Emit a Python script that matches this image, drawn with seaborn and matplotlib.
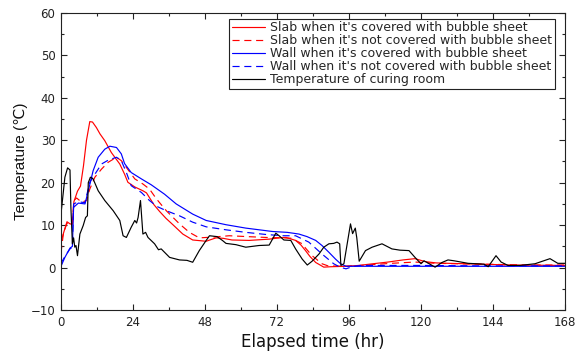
import numpy as np
import pandas as pd
import matplotlib
matplotlib.use("Agg")
import matplotlib.pyplot as plt
from matplotlib.ticker import MultipleLocator
import seaborn as sns

# Slab, covered with bubble sheet
slab_cov_hr = [0, 1, 2, 3, 3.8, 4.3, 5.5, 6.5, 7.5, 8.5, 9.6, 10.5, 11.8, 13.0, 14.6,
               16.8, 19.6, 21.2, 22.3, 24.6, 27.3, 28.5, 31.0, 32.9, 35.0, 37.3, 40.6,
               43.9, 48.4, 50.0, 51.7, 54.0, 57.0, 62.7, 69.4, 72.7, 75.0, 78.2, 80.0,
               81.5, 83.0, 84.9, 87.6, 90.0, 95.0, 99.2, 104, 109, 114, 118, 121.4,
               125, 129, 140, 150, 168]
slab_cov_t = [6.0, 8.5, 10.8, 10.3, 10.2, 15.5, 18.0, 19.2, 24.0, 30.0, 34.4, 34.3, 33.0,
              31.5, 29.9, 27.1, 24.4, 22.0, 20.1, 19.0, 18.1, 17.6, 14.8, 13.2, 11.6,
              10.1, 7.9, 6.5, 6.2, 6.6, 7.0, 6.9, 6.5, 6.4, 6.7, 7.0, 7.1, 6.4, 5.3,
              4.0, 2.6, 1.2, 0.1, 0.2, 0.3, 0.5, 0.9, 1.3, 1.8, 2.1, 1.4, 1.1, 1.0,
              0.8, 0.6, 0.5]

# Slab, not covered
slab_open_hr = [0, 0.8, 1.9, 3.0, 3.8, 4.3, 5.2, 6.9, 8.5, 9.6, 11.3, 13.5, 15.7, 18.5,
                20.1, 21.8, 24.6, 27.3, 29.5, 31.8, 35.1, 39.5, 42.8, 46.1, 51.0, 56.1,
                62, 68.3, 74, 77, 78.2, 80.4, 81.5, 83.7, 87.0, 89, 94, 100, 110, 118,
                125, 140, 155, 168]
slab_open_t = [3.5, 8.0, 10.3, 10.6, 10.4, 15.8, 16.4, 15.4, 15.8, 18.5, 21.3, 23.2, 24.8,
               26.0, 25.2, 23.6, 20.9, 19.7, 18.5, 16.2, 13.4, 10.3, 8.3, 7.0, 7.2, 7.5,
               7.3, 7.1, 7.0, 6.9, 6.4, 5.6, 4.6, 2.8, 0.9, 0.4, 0.3, 0.5, 1.0, 1.3,
               1.0, 0.8, 0.6, 0.6]

# Wall, covered with bubble sheet
wall_cov_hr = [0, 1.3, 3.0, 3.8, 4.2, 5.8, 8.0, 9.1, 10.7, 12.4, 14.6, 16.3, 18.5, 20.1,
               21.2, 23.4, 26.8, 30.1, 32.9, 34.5, 38.4, 43.9, 48.4, 55.0, 61.6, 70.5,
               75.4, 79.3, 82, 84.9, 87, 89.3, 91.5, 93.2, 95, 110, 130, 168]
wall_cov_t = [0.3, 2.4, 4.6, 5.0, 14.2, 15.2, 15.0, 18.1, 22.8, 26.0, 27.9, 28.6, 28.3,
              26.8, 24.5, 22.4, 20.9, 19.5, 18.1, 17.3, 15.0, 12.6, 11.1, 10.1, 9.3,
              8.5, 8.3, 7.9, 7.3, 6.4, 5.2, 3.6, 2.0, 0.9, 0.3, 0.3, 0.3, 0.3]

# Wall, not covered
wall_open_hr = [0, 1.3, 3.0, 3.8, 4.2, 5.8, 8.0, 9.6, 11.3, 13.5, 15.7, 18.5, 20.1, 21.8,
                23.4, 26.8, 29.5, 32, 35.1, 39.5, 43.9, 48.4, 55.0, 61.6, 68.3, 73.8,
                78.2, 82.6, 87.0, 90.9, 93, 95, 97, 100, 120, 140, 168]
wall_open_t = [1.0, 2.6, 4.4, 4.8, 15.0, 15.5, 15.3, 20.1, 22.0, 24.4, 25.3, 26.0, 25.2,
               22.4, 19.3, 17.7, 15.8, 14.4, 13.4, 12.2, 10.7, 9.6, 8.9, 8.3, 7.8, 7.5,
               7.5, 6.0, 3.2, 0.9, 0.1, -0.3, 0.2, 0.5, 0.5, 0.4, 0.4]

# Curing room air
room_hr = [0, 1.3, 2.2, 3.0, 3.3, 3.8, 4.2, 4.6, 5.0, 5.5, 6.3, 7.4, 8.2, 8.8, 9.1, 9.8,
           10.7, 12.4, 14.6, 17.4, 19.6, 20.7, 21.8, 23.4, 24.6, 25.2, 25.7, 26.5, 27.3,
           28.2, 29.0, 31.2, 32.5, 33.4, 36.2, 39.5, 42, 43.9, 46.1, 48.4, 49.5, 52.0,
           53.8, 55.0, 58.3, 61.6, 66.0, 69.4, 71.6, 72.7, 74.3, 76.6, 78.2, 80.4, 82.1,
           83.7, 86.0, 87.6, 89.3, 90.9, 92.0, 92.9, 93.3, 94.3, 95.4, 96.5, 97.2, 98.1,
           98.6, 99.4, 101.5, 103.7, 107.0, 110.3, 113, 116, 118, 120, 121, 122, 124.7,
           127, 129, 131, 135.7, 141, 142.4, 145, 146.7, 149, 153, 158, 163, 165.6, 168]
room_t = [12.6, 21.3, 23.5, 23.0, 14.2, 5.6, 7.0, 4.8, 5.2, 2.8, 7.9, 9.9, 11.8, 12.2,
          20.0, 21.3, 20.9, 18.1, 15.8, 13.4, 11.1, 7.5, 7.1, 9.5, 11.1, 10.5, 11.8, 15.8,
          7.9, 8.3, 7.1, 5.6, 4.2, 4.4, 2.4, 1.8, 1.7, 1.25, 4.0, 6.4, 7.5, 7.3, 6.4, 5.7,
          5.4, 4.8, 5.2, 5.3, 8.1, 7.5, 6.5, 6.4, 4.4, 2.0, 0.6, 1.5, 3.2, 4.8, 5.6, 5.7,
          6.0, 5.6, 0.5, 0.9, 5.6, 10.3, 8.0, 9.3, 7.0, 1.5, 4.0, 4.8, 5.6, 4.4, 4.1, 4.0,
          2.4, 0.9, 1.6, 1.2, 0.1, 1.2, 1.8, 1.6, 1.0, 0.8, 0.2, 2.8, 1.3, 0.5, 0.5, 0.9,
          2.1, 1.0, 1.0]

labels = ["Slab when it's covered with bubble sheet",
          "Slab when it's not covered with bubble sheet",
          "Wall when it's covered with bubble sheet",
          "Wall when it's not covered with bubble sheet",
          "Temperature of curing room"]
colors = ["#ff0000", "#ff0000", "#0000ff", "#0000ff", "#000000"]
dash_styles = ["", (6, 4), "", (6, 4), ""]

series = [(slab_cov_hr, slab_cov_t), (slab_open_hr, slab_open_t),
          (wall_cov_hr, wall_cov_t), (wall_open_hr, wall_open_t),
          (room_hr, room_t)]

frames = []
for name, (h, t) in zip(labels, series):
    frames.append(pd.DataFrame({"hr": h, "temp": t, "series": name}))
df = pd.concat(frames, ignore_index=True)

sns.set_theme(style="ticks")
plt.rcParams["font.family"] = ["DejaVu Sans"]

fig = plt.figure(figsize=(5.77, 3.6), dpi=100)
ax = fig.add_axes([0.1057, 0.1389, 0.8735, 0.8250])

sns.lineplot(data=df, x="hr", y="temp", hue="series", style="series",
             hue_order=labels, style_order=labels,
             palette=dict(zip(labels, colors)),
             dashes=dict(zip(labels, dash_styles)),
             estimator=None, sort=False, linewidth=0.85, ax=ax)

ax.set_xlim(0, 168)
ax.set_ylim(-10, 60)
ax.xaxis.set_major_locator(MultipleLocator(24))
ax.xaxis.set_minor_locator(MultipleLocator(12))
ax.yaxis.set_major_locator(MultipleLocator(10))
ax.yaxis.set_minor_locator(MultipleLocator(5))
ax.tick_params(which="both", direction="in", top=True, right=True,
               color="#222222", width=0.8)
ax.tick_params(which="major", length=4.5, labelsize=8.5, pad=4, labelcolor="#222222")
ax.tick_params(which="minor", length=2.2)
for sp in ax.spines.values():
    sp.set_color("#222222")
    sp.set_linewidth(0.8)

ax.set_xlabel("Elapsed time (hr)", fontsize=12, color="#111111", labelpad=3)
ax.set_ylabel("Temperature (\u2103)", fontsize=11, color="#111111", labelpad=2,
              family=["Liberation Sans", "DejaVu Sans"])

old = ax.get_legend()
handles = old.legend_handles
texts = [t.get_text() for t in old.get_texts()]
old.remove()
leg = ax.legend(handles, texts, loc="upper right", bbox_to_anchor=(0.980, 0.980),
                borderaxespad=0, fontsize=9, labelspacing=0.0, handlelength=2.7,
                handletextpad=0.4, borderpad=0.2, fancybox=False, framealpha=1,
                edgecolor="#222222")
leg.get_frame().set_linewidth(0.8)
for h in leg.legend_handles:
    h.set_linewidth(0.85)

fig.savefig("out.png", dpi=100)
